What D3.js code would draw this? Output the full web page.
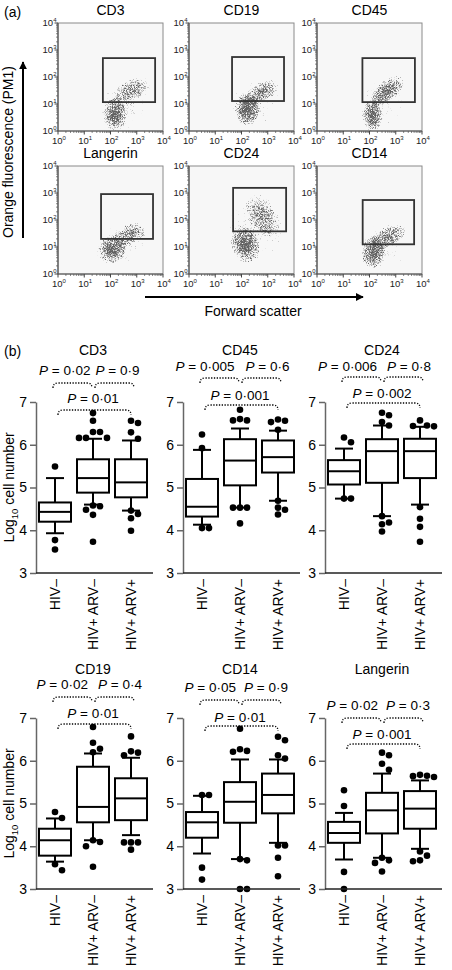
<!DOCTYPE html>
<html><head><meta charset="utf-8">
<script src="https://cdn.jsdelivr.net/npm/d3@7"></script>
<style>
body{margin:0;background:#fff;}
svg{display:block;font-family:"Liberation Sans",Arial,Helvetica,sans-serif;}
</style></head><body>
<svg id="c" width="452" height="970"></svg>
<script>
// ================= DATA =================
// ---- (a) flow cytometry ----
const flowMarkers = ["CD3","CD19","CD45","Langerin","CD24","CD14"];
const flowDecades = [0,1,2,3,4];               // log10 exponents of tick labels
const gateXmin = [1.71,1.64,1.73,1.64,1.68,1.74];
const gateXmax = [3.70,3.62,3.73,3.62,3.70,3.70];
const gateYmin = [1.07,1.11,1.07,1.30,1.58,1.10];
const gateYmax = [2.70,2.74,2.70,2.96,3.19,2.74];
// event clouds: [log x centre, log y centre, x spread, y spread, tilt (deg), density]
const cloudsCD3 = [[2.15,0.60,0.50,0.70,0,1.0],[2.85,1.55,0.85,0.42,22,0.8],[2.6,1.0,1.2,1.1,10,0.55]];
const cloudsCD19 = [[2.20,0.78,0.50,0.65,10,1.0],[2.80,1.46,0.80,0.38,32,0.85],[2.5,1.0,1.2,1.0,20,0.55]];
const cloudsCD45 = [[2.10,0.52,0.42,0.65,0,1.0],[2.70,1.52,0.85,0.40,40,0.9],[2.5,1.1,1.2,1.1,30,0.55]];
const cloudsLangerin = [[2.05,0.90,0.60,0.55,10,1.0],[2.80,1.52,0.80,0.40,25,0.8],[2.4,1.1,1.2,0.95,15,0.55]];
const cloudsCD24 = [[2.13,1.04,0.60,0.75,20,1.0],[2.82,2.22,0.60,1.00,30,0.8],[2.5,1.6,1.2,1.5,45,0.55]];
const cloudsCD14 = [[2.13,0.78,0.48,0.65,0,1.0],[2.77,1.42,0.82,0.38,25,0.85],[2.5,1.0,1.2,1.0,15,0.55]];
const flowClouds = [cloudsCD3,cloudsCD19,cloudsCD45,cloudsLangerin,cloudsCD24,cloudsCD14];

// ---- (b) box plots: [lower whisker, Q1, median, Q3, upper whisker] per group ----
const groups = ["HIV\u2013","HIV+ ARV\u2013","HIV+ ARV+"];
const yTicks = [3,4,5,6,7];
const cd3Box = [[3.93,4.20,4.43,4.65,5.22],[4.60,4.88,5.22,5.66,6.14],[4.46,4.77,5.12,5.66,6.10]];
const cd3Out = [[5.49,3.77,3.55],[6.74,6.56,6.30,6.30,6.16,6.16,6.16,4.58,4.56,4.48,4.36,3.73],[6.56,6.51,6.29,6.14,4.46,4.38,4.28,3.99]];
const cd45Box = [[4.13,4.32,4.55,5.20,5.88],[4.53,5.05,5.63,6.13,6.38],[4.69,5.35,5.71,6.10,6.33]];
const cd45Out = [[6.24,5.92,4.05,4.05],[6.82,6.60,6.57,6.57,4.53,4.53,4.53,4.16],[6.59,6.56,6.53,6.35,4.69,4.53,4.48,4.37]];
const cd24Box = [[4.74,5.07,5.38,5.64,5.91],[4.33,5.11,5.85,6.13,6.45],[4.60,5.22,5.85,6.14,6.42]];
const cd24Out = [[6.17,6.06,4.74,4.74],[6.75,6.69,6.53,6.45,4.33,4.18,4.14,3.97],[6.57,6.45,6.43,6.44,4.54,4.27,4.08,3.73]];
const cd19Box = [[3.64,3.78,4.14,4.41,4.65],[4.14,4.56,4.92,5.86,6.17],[4.26,4.61,5.12,5.59,6.07]];
const cd19Out = [[4.80,4.66,3.58,3.44],[6.79,6.42,6.28,6.20,4.14,4.10,4.00,3.52],[6.57,6.22,6.19,6.13,4.09,4.09,4.09,3.92]];
const cd14Box = [[3.83,4.20,4.56,4.80,5.18],[3.70,4.55,5.04,5.50,6.03],[4.08,4.77,5.20,5.70,6.03]];
const cd14Out = [[5.20,5.20,3.50,3.22],[6.75,6.27,6.23,6.21,3.70,3.67,3.00,3.00],[6.56,6.48,6.13,6.05,4.02,4.02,3.73,3.30]];
const langBox = [[3.69,4.08,4.31,4.57,4.78],[3.73,4.30,4.84,5.25,5.70],[3.94,4.41,4.88,5.29,5.54]];
const langOut = [[5.31,4.94,3.40,3.00],[6.19,6.13,5.93,5.79,3.73,3.67,3.61,3.41],[5.67,5.65,5.64,5.62,3.88,3.78,3.67,3.65]];
const boxMarkers = ["CD3","CD45","CD24","CD19","CD14","Langerin"];
const pLeft  = ["0\u00b702","0\u00b7005","0\u00b7006","0\u00b702","0\u00b705","0\u00b702"];
const pRight = ["0\u00b79","0\u00b76","0\u00b78","0\u00b74","0\u00b79","0\u00b73"];
const pWide  = ["0\u00b701","0\u00b7001","0\u00b7002","0\u00b701","0\u00b701","0\u00b7001"];

// ================= LAYOUT =================
const svg = d3.select("#c");
const defs = svg.append("defs");
const FONT = 14;

const filt = defs.append("filter").attr("id","speck")
  .attr("filterUnits","userSpaceOnUse").attr("x",0).attr("y",0).attr("width",452).attr("height",300)
  .attr("color-interpolation-filters","sRGB");
filt.append("feTurbulence").attr("type","fractalNoise").attr("baseFrequency",1.4)
  .attr("numOctaves",2).attr("seed",11).attr("result","n");
filt.append("feColorMatrix").attr("in","n").attr("type","matrix")
  .attr("values","0 0 0 0 0  0 0 0 0 0  0 0 0 0 0  1 0 0 0 0").attr("result","na");
filt.append("feComposite").attr("in","SourceGraphic").attr("in2","na").attr("operator","arithmetic")
  .attr("k1",0).attr("k2",3.2).attr("k3",-3.2).attr("k4",0).attr("result","d");
filt.append("feColorMatrix").attr("in","d").attr("type","matrix")
  .attr("values","0 0 0 0 0.28  0 0 0 0 0.28  0 0 0 0 0.28  0 0 0 0.85 0");

const grad = defs.append("radialGradient").attr("id","cloudGrad");
grad.append("stop").attr("offset","0%").attr("stop-color","#000").attr("stop-opacity",0.8);
grad.append("stop").attr("offset","45%").attr("stop-color","#000").attr("stop-opacity",0.55);
grad.append("stop").attr("offset","80%").attr("stop-color","#000").attr("stop-opacity",0.38);
grad.append("stop").attr("offset","100%").attr("stop-color","#000").attr("stop-opacity",0);

// ----- (a) -----
svg.append("text").attr("x",4).attr("y",17).attr("font-size",FONT).text("(a)");
const flowW = 105, flowH = 108;
const flowX = [58,189,317], flowY = [23,166];
flowMarkers.forEach((m,i)=>{
  const fx = flowX[i%3], fy = flowY[Math.floor(i/3)];
  const x = d3.scaleLinear().domain([0,4]).range([fx,fx+flowW]);
  const y = d3.scaleLinear().domain([0,4]).range([fy+flowH,fy]);
  const g = svg.append("g");
  defs.append("clipPath").attr("id","fc"+i).append("rect")
    .attr("x",fx).attr("y",fy).attr("width",flowW).attr("height",flowH);
  g.append("rect").attr("x",fx).attr("y",fy).attr("width",flowW).attr("height",flowH)
    .attr("fill","#f7f7f7").attr("stroke","#8a8a8a").attr("stroke-width",1);
  const cg = g.append("g").attr("clip-path",`url(#fc${i})`).append("g").attr("filter","url(#speck)");
  flowClouds[i].forEach(c=>{
    const cx = x(c[0]), cy = y(c[1]);
    cg.append("ellipse").attr("cx",0).attr("cy",0)
      .attr("rx",x(c[0]+c[2])-cx).attr("ry",cy-y(c[1]+c[3]))
      .attr("transform",`translate(${cx},${cy}) rotate(${-c[4]})`)
      .attr("fill","url(#cloudGrad)").attr("fill-opacity",c[5]);
  });
  g.append("line").attr("x1",fx).attr("x2",fx).attr("y1",fy).attr("y2",fy+flowH).attr("stroke","#555").attr("stroke-width",1.2);
  g.append("line").attr("x1",fx).attr("x2",fx+flowW).attr("y1",fy+flowH).attr("y2",fy+flowH).attr("stroke","#555").attr("stroke-width",1.2);
  const minor = [];
  for(let d=0; d<4; d++) for(let k=2;k<10;k++) minor.push(d+Math.log10(k));
  g.selectAll(null).data(minor).enter().append("line")
    .attr("x1",d=>x(d)).attr("x2",d=>x(d)).attr("y1",fy+flowH).attr("y2",fy+flowH+2).attr("stroke","#555").attr("stroke-width",0.7);
  g.selectAll(null).data(minor).enter().append("line")
    .attr("y1",d=>y(d)).attr("y2",d=>y(d)).attr("x1",fx).attr("x2",fx-2).attr("stroke","#555").attr("stroke-width",0.7);
  g.selectAll(null).data(flowDecades).enter().append("line")
    .attr("x1",d=>x(d)).attr("x2",d=>x(d)).attr("y1",fy+flowH).attr("y2",fy+flowH+3.5).attr("stroke","#444").attr("stroke-width",1);
  g.selectAll(null).data(flowDecades).enter().append("line")
    .attr("y1",d=>y(d)).attr("y2",d=>y(d)).attr("x1",fx).attr("x2",fx-3.5).attr("stroke","#444").attr("stroke-width",1);
  const xl = g.selectAll(null).data(flowDecades).enter().append("text")
    .attr("x",d=>x(d)-6).attr("y",fy+flowH+13).attr("font-size",9.5).attr("fill","#222");
  xl.append("tspan").text("10");
  xl.append("tspan").attr("font-size",6).attr("dy",-4).text(d=>d);
  const yl = g.selectAll(null).data(flowDecades).enter().append("text")
    .attr("x",fx-1.5).attr("y",d=>y(d)+2.5).attr("font-size",9.5).attr("text-anchor","end").attr("fill","#222");
  yl.append("tspan").text("10");
  yl.append("tspan").attr("font-size",6).attr("dy",-4).text(d=>d);
  g.append("rect").attr("x",x(gateXmin[i])).attr("y",y(gateYmax[i]))
    .attr("width",x(gateXmax[i])-x(gateXmin[i])).attr("height",y(gateYmin[i])-y(gateYmax[i]))
    .attr("fill","none").attr("stroke","#333").attr("stroke-width",1.8);
  g.append("text").attr("x",fx+flowW/2).attr("y",fy-8).attr("text-anchor","middle")
    .attr("font-size",14).text(m);
});
defs.append("marker").attr("id","arr").attr("viewBox","0 0 10 10").attr("refX",9).attr("refY",5)
  .attr("markerWidth",4).attr("markerHeight",4).attr("orient","auto")
  .append("path").attr("d","M0,0 L10,5 L0,10 z").attr("fill","#000");
svg.append("line").attr("x1",23).attr("x2",23).attr("y1",238).attr("y2",62)
  .attr("stroke","#000").attr("stroke-width",2).attr("marker-end","url(#arr)");
svg.append("text").attr("transform","translate(13,152) rotate(-90)").attr("text-anchor","middle")
  .attr("font-size",FONT).text("Orange fluorescence (PM1)");
svg.append("line").attr("x1",145).attr("x2",363).attr("y1",297).attr("y2",297)
  .attr("stroke","#000").attr("stroke-width",2).attr("marker-end","url(#arr)");
svg.append("text").attr("x",253).attr("y",316).attr("text-anchor","middle")
  .attr("font-size",FONT).text("Forward scatter");

// ----- (b) -----
svg.append("text").attr("x",4).attr("y",356).attr("font-size",FONT).text("(b)");
const boxData = [cd3Box,cd45Box,cd24Box,cd19Box,cd14Box,langBox];
const outData = [cd3Out,cd45Out,cd24Out,cd19Out,cd14Out,langOut];
const axisX = [36,183,325];
const rowTop = [402,718];
const titleY = [355,355,355,674,674,674];
const ann = [
  [375,383,403,410,5],[371,378,400,405,11],[371,377,398,403,10],
  [689,697,718,724,10],[692,700,722,726,8],[710,718,739,744,8]];

function pText(sel, x, y, anchor, val){
  const t = sel.append("text").attr("x",x).attr("y",y).attr("text-anchor",anchor).attr("font-size",13.5);
  t.append("tspan").attr("font-style","italic").text("P");
  t.append("tspan").text(" = "+val);
  return t;
}
function bracket(sel, x0, x1, y){
  sel.append("path").attr("d",`M${x0},${y+5} Q${x0},${y} ${x0+5},${y} L${x1-5},${y} Q${x1},${y} ${x1},${y+5}`)
    .attr("fill","none").attr("stroke","#000").attr("stroke-width",1.3).attr("stroke-dasharray","1.3,1.5");
}

boxMarkers.forEach((m,i)=>{
  const col = i%3, row = Math.floor(i/3);
  const ax = axisX[col];
  const y = d3.scaleLinear().domain([3,7]).range([rowTop[row]+171,rowTop[row]]);
  const x = d3.scalePoint().domain(groups).range([ax+19,ax+95]);
  const g = svg.append("g");
  const bw = 32, cap = 18;
  groups.forEach((grp,j)=>{
    const s = boxData[i][j], cx = x(grp);
    g.append("line").attr("x1",cx).attr("x2",cx).attr("y1",y(s[3])).attr("y2",y(s[4])).attr("stroke","#000").attr("stroke-width",2);
    g.append("line").attr("x1",cx).attr("x2",cx).attr("y1",y(s[1])).attr("y2",y(s[0])).attr("stroke","#000").attr("stroke-width",2);
    g.append("line").attr("x1",cx-cap/2).attr("x2",cx+cap/2).attr("y1",y(s[4])).attr("y2",y(s[4])).attr("stroke","#000").attr("stroke-width",2);
    g.append("line").attr("x1",cx-cap/2).attr("x2",cx+cap/2).attr("y1",y(s[0])).attr("y2",y(s[0])).attr("stroke","#000").attr("stroke-width",2);
    g.append("rect").attr("x",cx-bw/2).attr("y",y(s[3])).attr("width",bw).attr("height",y(s[1])-y(s[3]))
      .attr("fill","#fff").attr("stroke","#000").attr("stroke-width",2);
    g.append("line").attr("x1",cx-bw/2).attr("x2",cx+bw/2).attr("y1",y(s[2])).attr("y2",y(s[2])).attr("stroke","#000").attr("stroke-width",2);
    const pts = outData[i][j].slice().sort((a,b)=>b-a);
    const placed = [];
    const offs = [0,7,-7,14,-14,21];
    pts.forEach(v=>{
      const py = y(v);
      let px = cx;
      for(const o of offs){
        const tx = cx+o;
        if(placed.every(p=>Math.hypot(p[0]-tx,p[1]-py)>=6.8)){ px = tx; break; }
      }
      placed.push([px,py]);
    });
    g.selectAll(null).data(placed).enter().append("circle")
      .attr("cx",d=>d[0]).attr("cy",d=>d[1]).attr("r",3.3).attr("fill","#000");
  });
  const ya = g.append("g").attr("transform",`translate(${ax},0)`)
    .call(d3.axisLeft(y).tickValues(yTicks).tickSize(6).tickSizeOuter(0).tickPadding(3).tickFormat(d3.format("d")));
  ya.select(".domain").attr("stroke","#666").attr("stroke-width",1.5);
  ya.selectAll(".tick line").attr("stroke","#666").attr("stroke-width",1.5);
  ya.selectAll("text").attr("font-size",FONT).attr("font-family","Liberation Sans, Arial, sans-serif").attr("fill","#000");
  g.append("line").attr("x1",ax).attr("x2",ax+117).attr("y1",y(3)).attr("y2",y(3)).attr("stroke","#222").attr("stroke-width",1.5);
  g.selectAll(null).data(groups).enter().append("text")
    .attr("transform",d=>`translate(${x(d)+5},${y(3)+6}) rotate(-90)`)
    .attr("text-anchor","end").attr("font-size",FONT).text(d=>d);
  if(col===0){
    const yl = g.append("text").attr("transform",`translate(13.5,${(y(3)+y(7))/2}) rotate(-90)`)
      .attr("text-anchor","middle").attr("font-size",FONT);
    yl.append("tspan").text("Log");
    yl.append("tspan").attr("font-size",9.5).attr("dy",4).text("10");
    yl.append("tspan").attr("dy",-4).text(" cell number");
  }
  const c1 = x(groups[0]), c2 = x(groups[1]), c3 = x(groups[2]);
  g.append("text").attr("x",c2).attr("y",titleY[i]).attr("text-anchor","middle").attr("font-size",FONT).text(m);
  const a = ann[i];
  pText(g, c2-a[4]/2, a[0], "end", pLeft[i]);
  pText(g, c2+a[4]/2, a[0], "start", pRight[i]);
  bracket(g, c1-2, c2-1, a[1]);
  bracket(g, c2+2, c3+3, a[1]);
  pText(g, c2, a[2], "middle", pWide[i]);
  bracket(g, c1+3, c3, a[3]);
});
</script>
</body></html>
